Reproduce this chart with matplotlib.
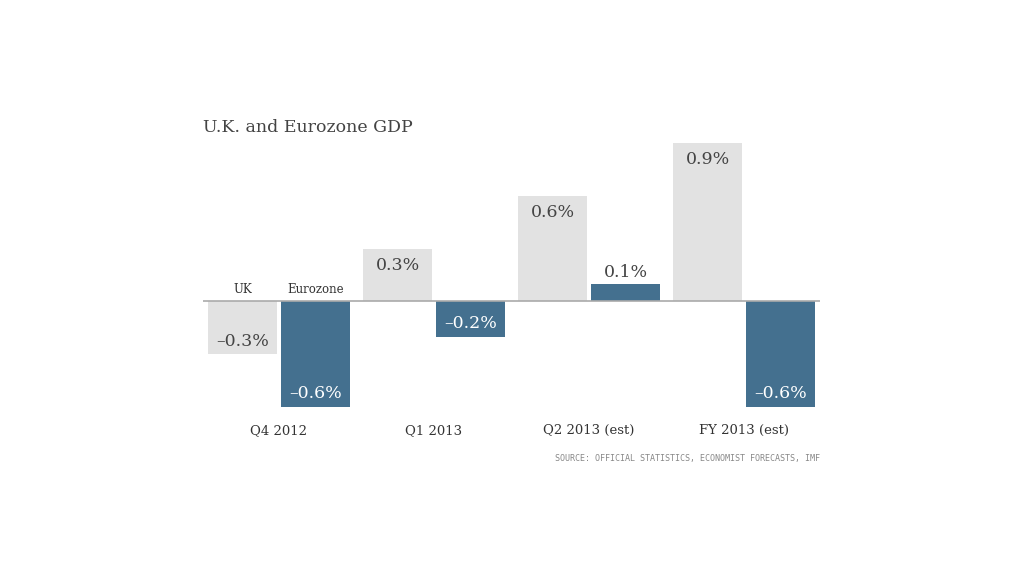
import numpy as np
import matplotlib.pyplot as plt

# data
periods = ["Q4 2012", "Q1 2013", "Q2 2013 (est)", "FY 2013 (est)"]
uk = [-0.3, 0.3, 0.6, 0.9]
eurozone = [-0.6, -0.2, 0.1, -0.6]

uk_color = "#e2e2e2"
ez_color = "#44708f"
text_dark = "#444444"

plt.rcParams['font.family'] = ['DejaVu Serif']

fig = plt.figure(figsize=(10.24, 5.76), dpi=100)
ax = fig.add_axes([203 / 1024, (576 - 407) / 576, 617 / 1024, (407 - 143) / 576])

x = np.arange(len(periods))
w = 0.445
off = 0.235

ax.bar(x - off, uk, w, color=uk_color)
ax.bar(x + off, eurozone, w, color=ez_color)

ax.set_xlim(-0.49, 3.49)
ax.set_ylim(-0.6, 0.9)
ax.axhline(0, color="#aaaaaa", lw=1.2, zorder=3)


def fmt(v):
    s = f"{abs(v):.1f}%"
    return ("\u2013" + s) if v < 0 else s


def label(xpos, v, inside_color):
    if abs(v) < 0.15:
        # too small, put it outside the bar
        dy = 8 if v >= 0 else -8
        ax.annotate(fmt(v), (xpos, v), xytext=(0, dy), textcoords="offset points",
                    ha="center", va="center", fontsize=12.5, color=text_dark)
        return
    dy = -12 if v > 0 else 9.5
    ax.annotate(fmt(v), (xpos, v), xytext=(0, dy), textcoords="offset points",
                ha="center", va="center", fontsize=12.5, color=inside_color)


for i in range(len(periods)):
    label(x[i] - off, uk[i], text_dark)
    label(x[i] + off, eurozone[i], "white")

# series names over the first pair
ax.annotate("UK", (x[0] - off, 0), xytext=(0, 8.5), textcoords="offset points",
            ha="center", va="center", fontsize=8.5, color="#333333")
ax.annotate("Eurozone", (x[0] + off, 0), xytext=(0, 8.5), textcoords="offset points",
            ha="center", va="center", fontsize=8.5, color="#333333")

ax.set_xticks(x)
ax.set_xticklabels(periods, fontsize=9.5, color="#333333")
ax.tick_params(axis="x", length=0, pad=12)
ax.set_yticks([])
for s in ax.spines.values():
    s.set_visible(False)

fig.text(203 / 1024, 1 - 127 / 576, "U.K. and Eurozone GDP", fontsize=12.5,
         color=text_dark, ha="left", va="center")
fig.text(820 / 1024, 1 - 458 / 576,
         "SOURCE: OFFICIAL STATISTICS, ECONOMIST FORECASTS, IMF",
         family="DejaVu Sans Mono", fontsize=6, color="#888888",
         ha="right", va="center")

fig.savefig("out.png", dpi=100, facecolor="white")
